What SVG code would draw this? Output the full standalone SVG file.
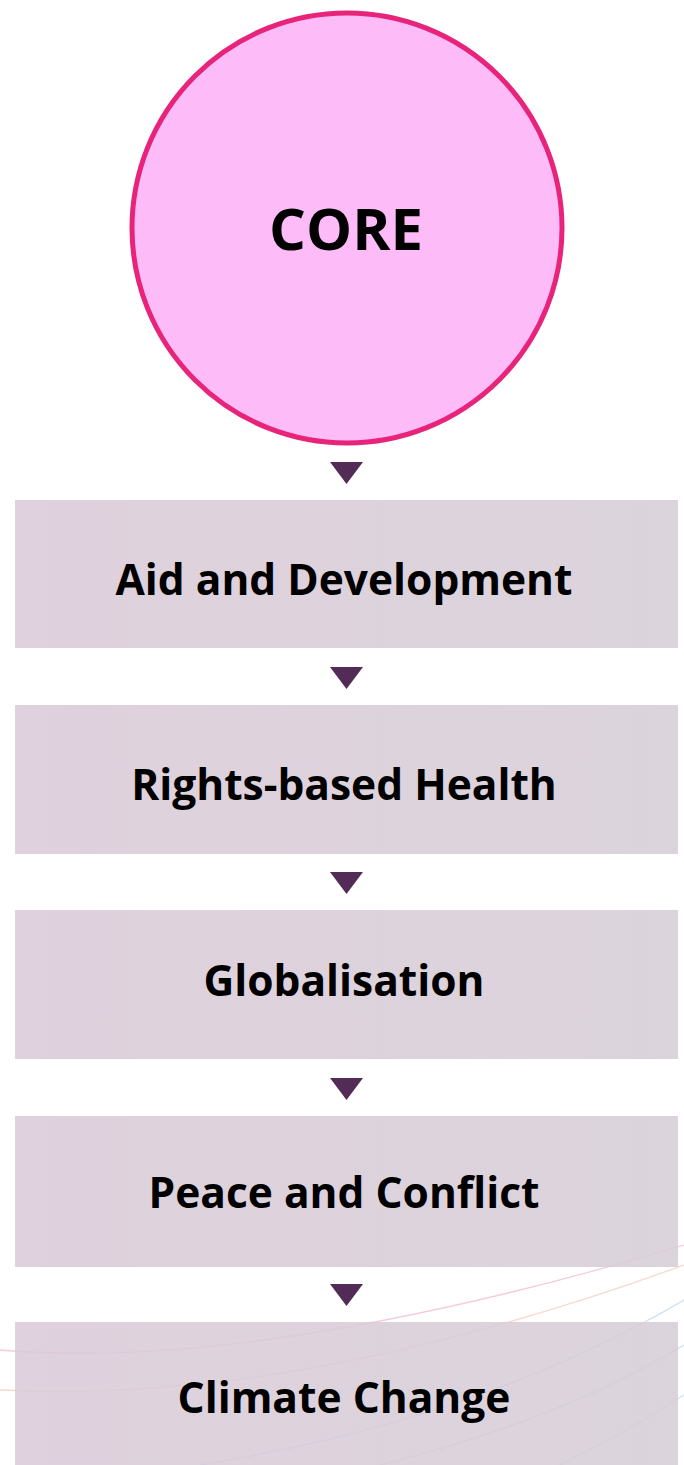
<svg xmlns="http://www.w3.org/2000/svg" width="684" height="1465" viewBox="0 0 684 1465">
<style>
.lbl{font-family:"Open Sans","Noto Sans","Liberation Sans",sans-serif;font-weight:700;font-size:42.5px;fill:#000;text-anchor:middle}
.box{fill:url(#bg);fill-opacity:0.85}
.arr{fill:#532b57}
.deco{fill:none;stroke-width:1.3}
</style>
<defs>
<linearGradient id="bg" x1="0" y1="0" x2="1" y2="0">
<stop offset="0" stop-color="#d9c9d7"/>
<stop offset="1" stop-color="#d5ccd6"/>
</linearGradient>
</defs>
<rect width="684" height="1465" fill="#ffffff"/>
<g id="decoration">
<path class="deco" stroke="#f0a8c0" stroke-opacity="0.6" d="M0,1350 Q260,1372 684,1245"/>
<path class="deco" stroke="#f2c0a8" stroke-opacity="0.6" d="M0,1390 Q300,1405 684,1265"/>
<path class="deco" stroke="#a8cce0" stroke-opacity="0.6" d="M200,1465 Q480,1420 684,1300"/>
<path class="deco" stroke="#a8cce0" stroke-opacity="0.6" d="M380,1465 Q560,1420 684,1345"/>
<path class="deco" stroke="#a8cce0" stroke-opacity="0.55" d="M560,1465 Q630,1430 684,1395"/>
</g>
<g id="core">
<circle cx="347" cy="228" r="215" fill="#fdbbf7" stroke="#e8237a" stroke-width="5"/>
<text class="lbl" x="346" y="250" style="font-size:58px">CORE</text>
</g>
<g id="connectors">
<polygon class="arr" points="330,462 363,462 346.5,484"/>
<polygon class="arr" points="330,667 363,667 346.5,689"/>
<polygon class="arr" points="330,872 363,872 346.5,894"/>
<polygon class="arr" points="330,1078 363,1078 346.5,1100"/>
<polygon class="arr" points="330,1284 363,1284 346.5,1306"/>
</g>
<g id="aid">
<rect class="box" x="15" y="500" width="663" height="148"/>
<text class="lbl" x="344" y="595">Aid and Development</text>
</g>
<g id="health">
<rect class="box" x="15" y="705" width="663" height="149"/>
<text class="lbl" x="344" y="800">Rights-based Health</text>
</g>
<g id="globalisation">
<rect class="box" x="15" y="910" width="663" height="149"/>
<text class="lbl" x="344" y="996">Globalisation</text>
</g>
<g id="peace">
<rect class="box" x="15" y="1116" width="663" height="151"/>
<text class="lbl" x="344" y="1208">Peace and Conflict</text>
</g>
<g id="climate">
<rect class="box" x="15" y="1322" width="663" height="143"/>
<text class="lbl" x="344" y="1413">Climate Change</text>
</g>
</svg>
